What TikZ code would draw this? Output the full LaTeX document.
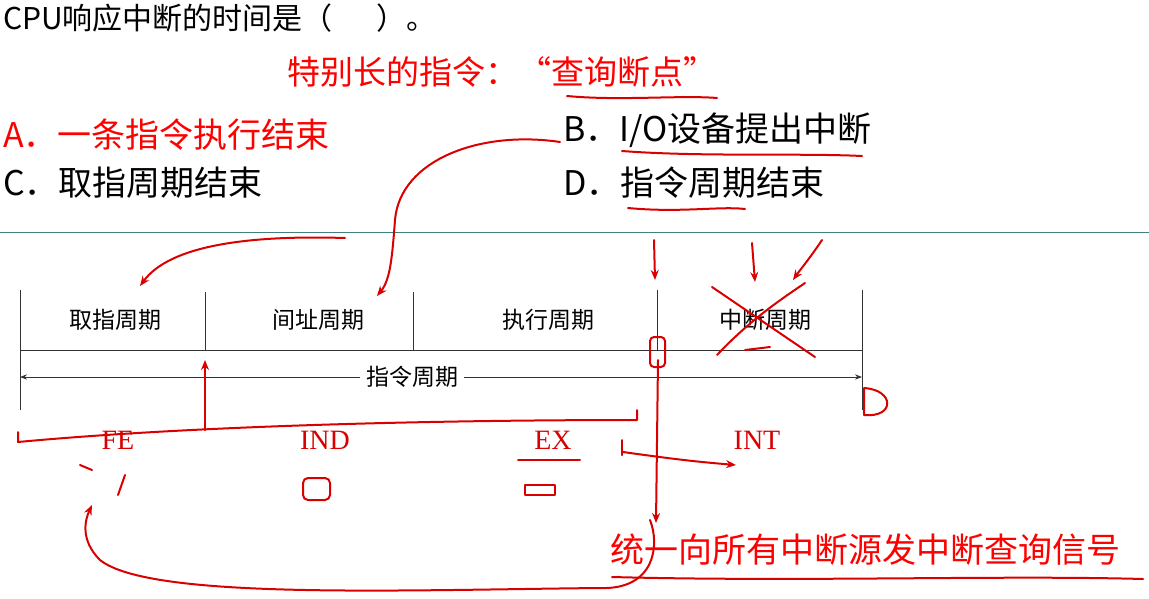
\documentclass[tikz,border=0pt]{standalone}
\usepackage{fontspec}
\setmainfont{Liberation Serif}
\newfontfamily\cjk{Noto Sans CJK SC}
\usetikzlibrary{arrows.meta}
\begin{document}
\begin{tikzpicture}[x=1pt,y=-1pt,
  txt/.style={font=\cjk\fontsize{34}{36}\selectfont,anchor=west,inner sep=0},
  lab/.style={font=\cjk\fontsize{23}{25}\selectfont,inner sep=1pt},
  pen/.style={red!85!black,line width=2pt,line cap=round,line join=round},
  ink/.style={pen,-{Stealth[length=10pt,width=8pt]}},
  tl/.style={black!80,line width=0.8pt}]
\useasboundingbox (0,0) rectangle (1149,598);
\fill[white] (0,0) rectangle (1149,598);
\node[txt,font=\cjk\fontsize{30}{32}\selectfont] (q) at (3,18) {CPU响应中断的时间是（\quad\ \ ）。};
\node[txt,red,font=\cjk\fontsize{33}{35}\selectfont] (note) at (287,72) {特别长的指令：“查询断点”};
\node[txt,red] (a) at (3,135) {A．一条指令执行结束};
\node[txt] (b) at (563,130) {B．I/O设备提出中断};
\node[txt] (c) at (3,183) {C．取指周期结束};
\node[txt] (d) at (563,183) {D．指令周期结束};
\draw[pen] (567,96) .. controls (620,101) and (680,95) .. (717,98);
\draw[pen] (622,151) .. controls (700,157) and (800,153) .. (862,156);
\draw[pen] (628,208) .. controls (680,213) and (720,206) .. (745,209);
\draw[teal!50!gray,line width=1pt] (0,232) -- (1149,232);
% timeline
\coordinate (l0) at (20,290); \coordinate (l0b) at (20,410);
\draw[tl] (l0) -- (l0b);
\draw[tl] (205,292) -- (205,350);
\draw[tl] (413,292) -- (413,350);
\draw[tl] (657,290) -- (657,350);
\draw[tl] (862,290) -- (862,410);
\draw[tl] (20,350) -- (862,350);
\node[lab] (p1) at (115,320) {取指周期};
\node[lab] (p2) at (318,320) {间址周期};
\node[lab] (p3) at (548,320) {执行周期};
\node[lab] (p4) at (765,320) {中断周期};
\coordinate (al) at (20,377); \coordinate (ar) at (862,377);
\draw[tl,{Stealth[length=7pt]}-{Stealth[length=7pt]}] (al) -- (ar);
\node[lab,fill=white,inner xsep=6pt] (ic) at (412,377) {指令周期};
% labels
\begin{scope}[every node/.style={red!85!black,font=\fontsize{28}{30}\selectfont}]
\node (fe) at (118,440) {FE};
\node (ind) at (325,440) {IND};
\node (ex) at (553,440) {EX};
\node (int) at (757,440) {INT};
\end{scope}
% annotations
\draw[pen] (712,287) -- (815,357);
\draw[pen] (717,355) .. controls (750,320) and (780,300) .. (805,283);
\draw[pen] (745,350) -- (770,347);
\draw[ink] (345,238) .. controls (250,235) and (170,245) .. (140,286);
\draw[ink] (560,142) .. controls (480,130) and (400,160) .. (395,220) .. controls (392,260) and (390,280) .. (377,296);
\draw[ink] (205,430) -- (205,360);
\draw[pen] (18,432) -- (18,442) .. controls (200,425) and (450,420) .. (637,420) -- (637,410);
\draw[ink] (658,360) -- (656,523);
\draw[pen,rounded corners=4pt] (650,337) rectangle (665,367);
\draw[pen] (864,388) .. controls (895,390) and (895,418) .. (864,415) -- (864,388);
\draw[ink] (623,452) .. controls (680,460) and (700,462) .. (736,465);
\draw[pen] (622,440) -- (622,455);
\draw[pen] (518,460) -- (580,460);
\draw[pen] (525,485) rectangle (555,495);
\draw[pen, rounded corners=5pt] (303,478) rectangle (330,500);
\draw[pen] (80,465) -- (92,470);
\draw[pen] (125,475) -- (118,495);
\draw[ink] (654,240) -- (655,280);
\draw[ink] (752,243) -- (755,282);
\draw[ink] (822,240) .. controls (810,258) and (800,270) .. (793,280);
\draw[ink] (650,520) .. controls (660,545) and (655,590) .. (600,588) .. controls (400,590) and (150,600) .. (100,560) .. controls (80,540) and (85,520) .. (92,505);
\node[txt,red] (sig) at (610,550) {统一向所有中断源发中断查询信号};
\draw[pen] (612,577) .. controls (800,582) and (1000,575) .. (1143,579);
\end{tikzpicture}
\end{document}
